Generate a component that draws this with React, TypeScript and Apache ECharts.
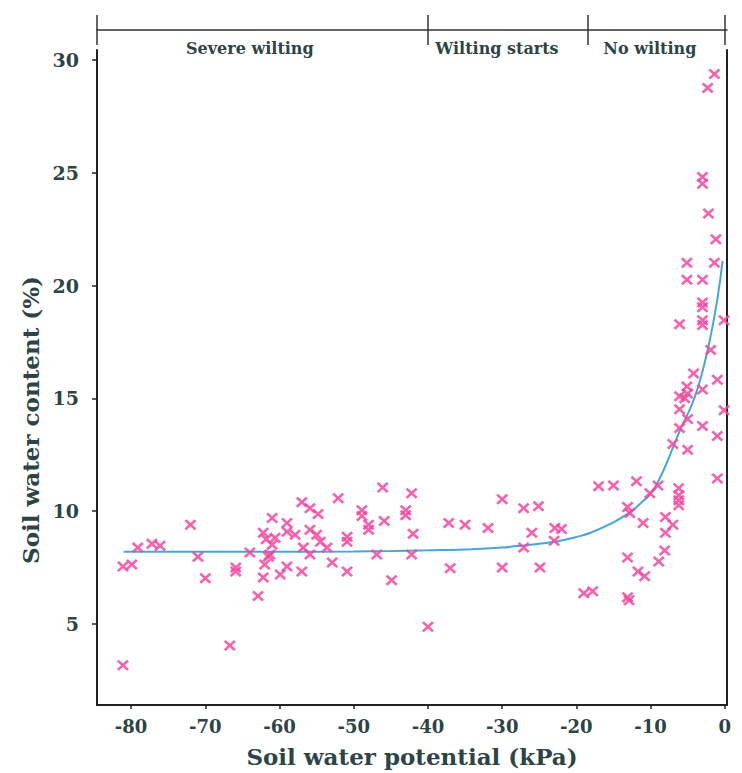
import React, { useEffect, useRef } from "react";
import * as echarts from "echarts";

// Measured points: soil water potential (kPa) and soil water content (%)
const potential = [
  -81.1, -79.9, -79.1, -77.2, -76.1, -72.0, -71.0, -70.0, -65.9, -65.9, -64.0, -62.9, -66.7, -81.1,
  -61.0, -62.2, -59.0, -57.9, -60.6, -61.0, -61.5, -62.0, -62.2, -59.9, -59.0, -57.0, -55.9, -54.8,
  -52.1, -55.9, -55.0, -54.5, -56.8, -55.9, -53.6, -52.9, -57.0, -50.9, -50.9, -50.9, -59.0, -61.3, -61.8,
  -46.1, -42.2, -48.9, -48.9, -48.0, -48.0, -45.9, -43.0, -43.0, -42.0, -46.9, -42.2, -44.9, -40.0,
  -37.2, -35.0, -31.9, -37.0, -30.0, -27.1, -25.1, -26.0, -27.1, -22.9, -22.0, -23.0, -30.0, -24.9,
  -19.0, -17.8, -17.0, -15.0, -13.1, -12.8, -13.1, -13.1, -12.9,
  -11.9, -9.0, -10.1, -6.2, -6.2, -6.2, -6.2, -11.0, -8.0, -7.0, -8.0, -8.1, -8.9, -11.7, -10.8,
  -1.0, -7.0, -5.0, -1.0, -6.1, -5.0, -3.0, -0.1, -6.1, -6.1, -5.4, -5.0, -5.1, -3.0, -1.0, -4.2,
  -1.9, -3.0, -3.0, -6.1, -0.1, -3.0, -3.0, -5.1, -3.0, -5.1, -1.4, -1.2, -2.2, -3.0, -3.0, -2.3, -1.4,
];
const content = [
  7.54, 7.63, 8.38, 8.55, 8.46, 9.39, 7.98, 7.02, 7.50, 7.32, 8.16, 6.23, 4.04, 3.16,
  9.69, 9.04, 9.47, 8.95, 8.82, 8.51, 7.98, 7.63, 7.06, 7.19, 7.54, 10.39, 10.13, 9.87,
  10.57, 9.17, 8.95, 8.64, 8.38, 8.07, 8.38, 7.72, 7.32, 8.86, 8.64, 7.32, 9.08, 8.07, 8.75,
  11.05, 10.79, 10.04, 9.78, 9.39, 9.17, 9.56, 10.04, 9.82, 8.99, 8.07, 8.07, 6.93, 4.87,
  9.47, 9.39, 9.25, 7.46, 10.53, 10.13, 10.22, 9.04, 8.38, 9.25, 9.21, 8.68, 7.50, 7.50,
  6.36, 6.45, 11.10, 11.14, 10.18, 9.91, 7.94, 6.18, 6.05,
  11.32, 11.14, 10.79, 11.01, 10.70, 10.48, 10.26, 9.47, 9.74, 9.39, 9.04, 8.25, 7.76, 7.32, 7.11,
  11.45, 12.98, 12.72, 13.33, 13.68, 14.08, 13.77, 14.47, 14.52, 15.09, 15.0, 15.22, 15.53, 15.39, 15.83, 16.10,
  17.15, 18.25, 18.46, 18.29, 18.46, 19.04, 19.25, 20.26, 20.26, 21.01, 21.01, 22.06, 23.20, 24.52, 24.82, 28.77, 29.39,
];

// Fitted curve
const curveX = [-81, -70, -60, -50, -45, -40, -35, -30, -28, -25, -22, -20, -18, -15, -13, -12, -11, -10, -9, -8, -7, -6, -5, -4, -3, -2, -1, -0.3];
const curveY = [8.2, 8.2, 8.2, 8.21, 8.23, 8.26, 8.3, 8.38, 8.45, 8.55, 8.7, 8.85, 9.05, 9.5, 9.9, 10.15, 10.45, 10.75, 11.3, 12.0, 12.8, 13.6, 14.3, 15.1, 16.2, 17.6, 19.4, 21.1];

const xTicks = [-80, -70, -60, -50, -40, -30, -20, -10, 0];
const yTicks = [5, 10, 15, 20, 25, 30];
const zoneBounds = [-84.6, -40, -18.5, 0];
const zoneCenters = [-64, -30.7, -10.1];
const zoneNames = ["Severe wilting", "Wilting starts", "No wilting"];

const X_MIN = -84.6;
const X_MAX = 0.3;
const Y_MIN = 1.4;
const Y_MAX = 30.45;

const FONT = "'DejaVu Serif', 'Liberation Serif', serif";
const TXT = "#2c4444";
const XMARK = "path://M0,1.6 L1.6,0 L5,3.4 L8.4,0 L10,1.6 L6.6,5 L10,8.4 L8.4,10 L5,6.6 L1.6,10 L0,8.4 L3.4,5 Z";

export default function App() {
  const ref = useRef<HTMLDivElement>(null);
  useEffect(() => {
    document.body.style.margin = "0";
    const chart = echarts.init(ref.current!, null, { renderer: "svg" });
    const pts = potential.map((x, i) => [x, content[i]]);
    const curve = curveX.map((x, i) => [x, curveY[i]]);
    chart.setOption({
      animation: false,
      backgroundColor: "#ffffff",
      grid: { left: 97, right: 15, top: 50, bottom: 61 },
      xAxis: [
        {
          type: "value",
          min: X_MIN,
          max: X_MAX,
          name: "Soil water potential (kPa)",
          nameLocation: "middle",
          nameGap: 40,
          nameTextStyle: { fontFamily: FONT, fontWeight: "bold", fontSize: 23, color: TXT },
          axisLine: { show: true, onZero: false, lineStyle: { color: "#222", width: 2 } },
          axisTick: { show: true, customValues: xTicks, length: 4, lineStyle: { color: "#222", width: 1.5 } },
          axisLabel: { customValues: xTicks, margin: 12, fontFamily: FONT, fontWeight: "bold", fontSize: 18, color: TXT },
          splitLine: { show: false },
        },
        {
          type: "value",
          position: "top",
          offset: 20,
          min: X_MIN,
          max: X_MAX,
          axisLine: { show: true, onZero: false, lineStyle: { color: "#333", width: 1.5 } },
          axisTick: { show: true, customValues: zoneBounds, length: 15, lineStyle: { color: "#333", width: 1.5 } },
          axisLabel: { show: false },
          splitLine: { show: false },
        },
        {
          type: "value",
          position: "top",
          offset: 20,
          min: X_MIN,
          max: X_MAX,
          axisLine: { show: false, onZero: false },
          axisTick: { show: true, inside: true, customValues: zoneBounds, length: 15, lineStyle: { color: "#333", width: 1.5 } },
          axisLabel: {
            show: true,
            inside: true,
            margin: 10,
            customValues: zoneCenters,
            formatter: (v: number) => zoneNames[zoneCenters.indexOf(v)] ?? "",
            fontFamily: FONT,
            fontWeight: "bold",
            fontSize: 16,
            color: TXT,
            verticalAlign: "top",
          },
          splitLine: { show: false },
        },
      ],
      yAxis: [
        {
          type: "value",
          min: Y_MIN,
          max: Y_MAX,
          axisLine: { show: true, onZero: false, lineStyle: { color: "#222", width: 2 } },
          axisTick: { show: true, customValues: yTicks, length: 5, lineStyle: { color: "#222", width: 1.5 } },
          axisLabel: { customValues: yTicks, margin: 18, fontFamily: FONT, fontWeight: "bold", fontSize: 19, color: TXT },
          splitLine: { show: false },
        },
        {
          type: "value",
          position: "right",
          min: Y_MIN,
          max: Y_MAX,
          axisLine: { show: true, onZero: false, lineStyle: { color: "#222", width: 2 } },
          axisTick: { show: false },
          axisLabel: { show: false },
          splitLine: { show: false },
        },
      ],
      graphic: [
        {
          type: "text",
          x: 30,
          y: 420,
          rotation: Math.PI / 2,
          style: {
            text: "Soil water content (%)",
            fontFamily: FONT,
            fontWeight: "bold",
            fontSize: 23,
            fill: TXT,
            align: "center",
            verticalAlign: "middle",
          },
        },
      ],
      series: [
        {
          type: "line",
          data: curve,
          smooth: true,
          showSymbol: false,
          lineStyle: { color: "#45a6dc", width: 2 },
          z: 3,
        },
        {
          type: "scatter",
          data: pts,
          symbol: XMARK,
          symbolSize: [12, 11],
          itemStyle: { color: "#f2459f", opacity: 0.85 },
          z: 4,
        },
      ],
    });
    return () => chart.dispose();
  }, []);
  return <div ref={ref} style={{ width: 742, height: 773 }} />;
}
